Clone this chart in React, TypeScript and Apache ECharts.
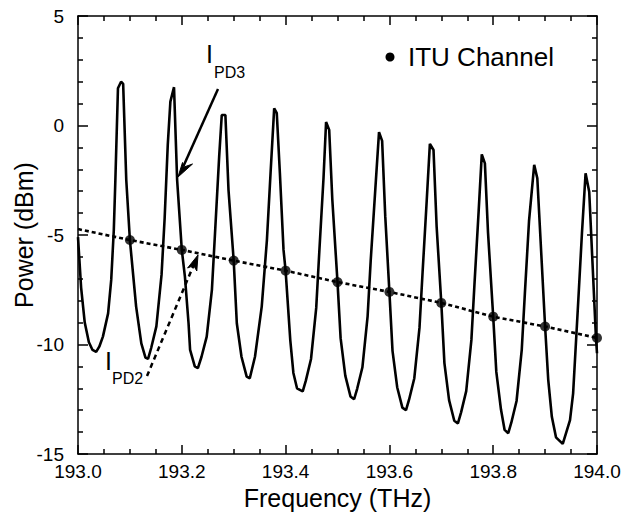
import React, { useEffect, useRef } from "react";
import * as echarts from "echarts";

// Measured optical spectrum (frequency THz, power dBm)
const spectrum: [number, number][] = [
  [193.000, -5.1], [193.006, -7.4], [193.013, -9.0], [193.021, -9.9], [193.028, -10.25], [193.035, -10.34],
  [193.041, -10.1], [193.048, -9.64], [193.058, -8.58], [193.064, -7.05], [193.069, -4.77], [193.072, -2.49], [193.077, 1.7], [193.083, 2.0], [193.087, 1.9],
  [193.093, -2.49], [193.100, -5.23], [193.112, -8.27], [193.122, -9.95], [193.130, -10.6], [193.135, -10.66],
  [193.141, -10.16], [193.151, -9.17], [193.161, -6.81], [193.167, -4.21], [193.173, -0.86], [193.178, 1.09], [193.185, 1.75],
  [193.191, -2.49], [193.200, -5.68], [193.206, -6.9], [193.213, -9.03], [193.216, -10.25], [193.225, -11.0], [193.231, -11.08],
  [193.238, -10.56], [193.248, -9.64], [193.258, -7.51], [193.264, -4.92], [193.272, -1.42], [193.277, 0.48], [193.284, 0.48],
  [193.290, -2.95], [193.300, -6.17], [193.306, -9.03], [193.315, -10.56], [193.325, -11.47], [193.331, -11.54],
  [193.341, -10.56], [193.354, -8.27], [193.364, -5.23], [193.371, -2.18], [193.378, 0.78], [193.383, 0.56],
  [193.389, -2.18], [193.396, -5.68], [193.400, -6.63], [193.409, -9.8], [193.415, -11.3], [193.422, -12.0], [193.433, -12.14],
  [193.439, -11.65], [193.449, -10.66], [193.459, -8.33], [193.465, -5.74], [193.473, -2.42], [193.478, 0.16], [193.484, -0.2],
  [193.490, -3.38], [193.500, -7.15], [193.506, -9.71], [193.515, -11.42], [193.525, -12.37], [193.532, -12.5],
  [193.538, -12.01], [193.548, -11.04], [193.558, -8.72], [193.564, -6.16], [193.573, -2.86], [193.580, -0.3], [193.586, -0.7],
  [193.592, -4.14], [193.600, -7.6], [193.606, -10.29], [193.615, -11.95], [193.625, -12.88], [193.632, -13.0],
  [193.638, -12.51], [193.648, -11.54], [193.658, -9.23], [193.664, -6.68], [193.672, -3.39], [193.678, -0.84], [193.685, -1.12],
  [193.691, -4.61], [193.700, -8.1], [193.706, -10.85], [193.715, -12.54], [193.725, -13.48], [193.732, -13.6],
  [193.738, -13.11], [193.748, -12.13], [193.758, -9.79], [193.764, -7.21], [193.772, -3.9], [193.778, -1.32], [193.784, -1.73],
  [193.790, -4.88], [193.800, -8.73], [193.806, -11.25], [193.815, -12.97], [193.822, -13.9], [193.829, -14.05],
  [193.835, -13.56], [193.845, -12.58], [193.855, -10.25], [193.861, -7.68], [193.869, -4.37], [193.879, -1.8], [193.885, -2.41],
  [193.900, -9.18], [193.906, -11.6], [193.913, -13.3], [193.921, -14.24], [193.934, -14.54],
  [193.948, -13.45], [193.954, -12.23], [193.964, -7.97], [193.971, -4.92], [193.978, -2.18], [193.985, -3.02], [193.998, -9.7], [194.000, -10.4],
];

// ITU channel grid points
const ituFreq = [193.1, 193.2, 193.3, 193.4, 193.5, 193.6, 193.7, 193.8, 193.9, 194.0];
const ituPower = [-5.23, -5.68, -6.17, -6.63, -7.15, -7.6, -8.1, -8.73, -9.18, -9.7];
const trendStart: [number, number] = [193.0, -4.73];

const xMin = 193.0;
const xMax = 194.0;
const xStep = 0.2;
const yMin = -15;
const yMax = 5;
const yStep = 5;

const FONT = "'Liberation Sans', Arial, Helvetica, sans-serif";

export default function App() {
  const ref = useRef<HTMLDivElement>(null);
  useEffect(() => {
    if (!ref.current) return;
    const chart = echarts.init(ref.current, undefined, { renderer: "svg" });
    const ituPts = ituFreq.map((f, i) => [f, ituPower[i]]);
    const axisLine = { show: true, onZero: false, lineStyle: { color: "#000", width: 1.5 } };
    const tickStyle = { color: "#000", width: 1.5 };
    const xBase = {
      type: "value" as const,
      min: xMin,
      max: xMax,
      interval: xStep,
      axisLine,
      axisTick: { show: true, inside: true, length: 9, lineStyle: tickStyle },
      minorTick: { show: true, splitNumber: 4, length: 5, lineStyle: tickStyle },
      splitLine: { show: false },
      minorSplitLine: { show: false },
    };
    const yBase = {
      type: "value" as const,
      min: yMin,
      max: yMax,
      interval: yStep,
      axisLine,
      axisTick: { show: true, inside: true, length: 10, lineStyle: tickStyle },
      minorTick: { show: true, splitNumber: 5, length: 5, lineStyle: tickStyle },
      splitLine: { show: false },
      minorSplitLine: { show: false },
    };
    chart.setOption({
      animation: false,
      backgroundColor: "#fff",
      grid: { left: 78, top: 16, right: 28, bottom: 65, containLabel: false, outerBoundsMode: "none" },
      xAxis: [
        {
          ...xBase,
          position: "bottom",
          axisLabel: {
            show: true,
            color: "#000",
            fontSize: 19,
            fontFamily: FONT,
            margin: 8,
            formatter: (v: number) => v.toFixed(1),
          },
          name: "Frequency (THz)",
          nameLocation: "middle",
          nameGap: 31,
          nameMoveOverlap: false,
          nameTextStyle: { color: "#000", fontSize: 25, fontFamily: FONT },
        },
        { ...xBase, position: "top", axisLabel: { show: false } },
      ],
      yAxis: [
        {
          ...yBase,
          position: "left",
          axisLabel: {
            show: true,
            color: "#000",
            fontSize: 19,
            fontFamily: FONT,
            margin: 14,
            formatter: (v: number) => String(v),
          },
          name: "Power (dBm)",
          nameLocation: "middle",
          nameGap: 42,
          nameRotate: 90,
          nameMoveOverlap: false,
          nameTextStyle: { color: "#000", fontSize: 25, fontFamily: FONT },
        },
        { ...yBase, position: "right", axisLabel: { show: false } },
      ],
      series: [
        {
          name: "spectrum",
          type: "line",
          data: spectrum,
          showSymbol: false,
          symbol: "none",
          lineStyle: { color: "#000", width: 2.6 },
          z: 2,
        },
        {
          name: "trend",
          type: "line",
          data: [trendStart, ...ituPts],
          showSymbol: false,
          symbol: "none",
          lineStyle: { color: "#000", width: 2.6, type: [4, 3] },
          z: 3,
        },
        {
          name: "ITU Channel",
          type: "scatter",
          data: ituPts,
          symbol: "circle",
          symbolSize: 10,
          itemStyle: { color: "#000" },
          z: 4,
        },
      ],
      graphic: [
        { type: "circle", shape: { cx: 390, cy: 57, r: 4.5 }, style: { fill: "#000" } },
        {
          type: "text",
          x: 408,
          y: 57,
          style: { text: "ITU Channel", fontSize: 26, fontFamily: FONT, fill: "#000", verticalAlign: "middle", align: "left" },
        },
        {
          type: "text",
          x: 206,
          y: 54,
          style: { text: "I", fontSize: 25, fontFamily: FONT, fill: "#000", verticalAlign: "middle", align: "left" },
        },
        {
          type: "text",
          x: 214,
          y: 72,
          style: { text: "PD3", fontSize: 16, fontFamily: FONT, fill: "#000", verticalAlign: "middle", align: "left" },
        },
        {
          type: "text",
          x: 105,
          y: 361,
          style: { text: "I", fontSize: 25, fontFamily: FONT, fill: "#000", verticalAlign: "middle", align: "left" },
        },
        {
          type: "text",
          x: 112,
          y: 378,
          style: { text: "PD2", fontSize: 16, fontFamily: FONT, fill: "#000", verticalAlign: "middle", align: "left" },
        },
        {
          type: "line",
          shape: { x1: 218, y1: 89, x2: 183.5, y2: 166 },
          style: { stroke: "#000", lineWidth: 2.5 },
        },
        {
          type: "polygon",
          shape: { points: [[178, 177], [182.5, 162.5], [184, 167], [192.5, 164]] },
          style: { fill: "#000", stroke: "#000", lineWidth: 1 },
        },
        {
          type: "line",
          shape: { x1: 147, y1: 376, x2: 193.7, y2: 265 },
          style: { stroke: "#000", lineWidth: 2.5, lineDash: [5, 4] },
        },
        {
          type: "polygon",
          shape: { points: [[198, 255], [196.8, 271], [193.7, 265.5], [187.6, 268]] },
          style: { fill: "#000", stroke: "#000", lineWidth: 1 },
        },
      ],
    });
    return () => chart.dispose();
  }, []);
  return (
    <div
      ref={ref}
      style={{ position: "absolute", left: 0, top: 0, width: 625, height: 519, background: "#fff" }}
    />
  );
}
